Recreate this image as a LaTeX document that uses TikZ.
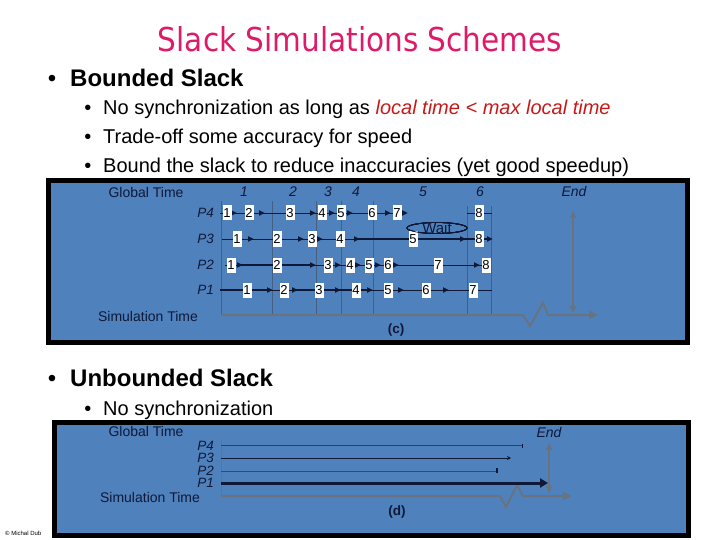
\documentclass[tikz,border=0pt]{standalone}
\usepackage{fontspec}
\setmainfont{Liberation Sans}
\newfontfamily\titlefont{DejaVu Sans}
\usetikzlibrary{arrows.meta}
\definecolor{panelblue}{RGB}{79,129,189}
\definecolor{navy}{RGB}{15,25,55}
\definecolor{greyline}{RGB}{105,115,128}
\definecolor{gridline}{RGB}{70,95,128}
\definecolor{titlered}{RGB}{222,27,104}
\definecolor{hired}{RGB}{200,25,25}
\tikzset{
  txt/.style={inner sep=0pt, anchor=base west},
  lbl/.style={inner sep=0pt, font=\fontsize{14}{15}\selectfont, text=navy},
  plbl/.style={inner sep=0pt, anchor=east, font=\fontsize{13.5}{14}\selectfont\itshape, text=navy},
  nb/.style={fill=white, inner sep=0pt, minimum width=9pt, minimum height=15pt, font=\fontsize{13}{13}\selectfont, text=black},
  thinrow/.style={draw=navy, line width=0.7pt},
  thickrow/.style={draw=navy, line width=2.4pt},
  gridln/.style={draw=gridline, line width=0.7pt},
  baseln/.style={draw=greyline, line width=2pt},
  panel/.style={fill=panelblue, draw=black, line width=5pt},
}
\newcommand\amk[2]{\fill[navy] (#1,#2) ++(-3,-2.8) -- ++(5.5,2.8) -- ++(-5.5,2.8) -- cycle;}
\newcommand\nbox[4]{\node[nb] (#1) at (#2,#3) {#4};}
\begin{document}
\begin{tikzpicture}[x=1pt,y=-1pt]
\useasboundingbox (0,0) rectangle (720,540);
% ---------- header texts ----------
\node (title) [anchor=base, inner sep=0pt, text=titlered] at (360,52) {\resizebox{404pt}{25pt}{\titlefont Slack Simulations Schemes}};
\node (bul1) [inner sep=0pt, anchor=base, font=\fontsize{24}{25}\selectfont] at (52,87) {•};
\node (h1) [txt, font=\fontsize{24}{25}\selectfont\bfseries] at (70,87) {Bounded Slack};
\node (sb1) [inner sep=0pt, anchor=base, font=\fontsize{20}{21}\selectfont] at (88,115) {•};
\node (s1) [txt, font=\fontsize{20}{21}\selectfont] at (103,115) {No synchronization as long as {\color{hired}\itshape local time < max local time}};
\node (sb2) [inner sep=0pt, anchor=base, font=\fontsize{20}{21}\selectfont] at (88,144) {•};
\node (s2) [txt, font=\fontsize{20}{21}\selectfont] at (103,144) {Trade-off some accuracy for speed};
\node (sb3) [inner sep=0pt, anchor=base, font=\fontsize{20}{21}\selectfont] at (88,172.5) {•};
\node (s3) [txt, font=\fontsize{20}{21}\selectfont] at (103,172.5) {Bound the slack to reduce inaccuracies (yet good speedup)};
\node (bul2) [inner sep=0pt, anchor=base, font=\fontsize{24}{25}\selectfont] at (52,386) {•};
\node (h2) [txt, font=\fontsize{24}{25}\selectfont\bfseries] at (70,386) {Unbounded Slack};
\node (sb4) [inner sep=0pt, anchor=base, font=\fontsize{20}{21}\selectfont] at (88,415) {•};
\node (s4) [txt, font=\fontsize{20}{21}\selectfont] at (103,415) {No synchronization};
\node (foot) [txt, font=\fontsize{6}{6}\selectfont] at (5,535.5) {© Michal Dub};
% ---------- panel (c) ----------
\draw[panel] (48.5,180.5) rectangle (687.5,342.5);
\foreach \x in {221,272,316,341,373} \draw[gridln] (\x,201) -- (\x,315);
\foreach \x in {467,491} \draw[gridln] (\x,206) -- (\x,315);
\draw[baseln, -{Triangle[length=9pt,width=8pt]}] (221,315) -- (523,315) -- (530,326) -- (543,303) -- (548,315) -- (598,315);
\draw[greyline, line width=1.5pt, {Triangle[length=7pt,width=6pt]}-{Triangle[length=7pt,width=6pt]}] (573,211) -- (573,313);
\node (gt) [lbl] at (146,192) {Global Time};
\node (st) [lbl] at (148,316) {Simulation Time};
\foreach \x/\t in {244/1,293/2,328/3,356/4,423/5,480/6} \node [lbl, font=\fontsize{14}{15}\selectfont\itshape] at (\x,192) {\t};
\node (endc) [lbl, font=\fontsize{14}{15}\selectfont\itshape] at (574,191) {End};
\node (c) [lbl, font=\fontsize{13.5}{14}\selectfont\bfseries] at (396,330) {(c)};
\node (p4) [plbl] at (214,213) {P4};
\node (p3) [plbl] at (214,239) {P3};
\node (p2) [plbl] at (214,265) {P2};
\node (p1) [plbl] at (214,290) {P1};
% P4 row
\draw[thinrow] (220,213) -- (404,213);
\draw[thinrow] (467,213) -- (492,213);
\foreach \x in {234,262,313,332,350,388,405} \amk{\x}{213}
\nbox{a1}{227}{213}{1}\nbox{a2}{249}{213}{2}\nbox{a3}{290}{213}{3}\nbox{a4}{322}{213}{4}
\nbox{a5}{341}{213}{5}\nbox{a6}{372}{213}{6}\nbox{a7}{397}{213}{7}\nbox{a8}{479}{213}{8}
% P3 row
\draw[thinrow] (222,239) -- (357,239);
\draw[thickrow] (357,239) -- (489,239);
\foreach \x in {251,301,320,357,463,490} \amk{\x}{239}
\nbox{b1}{237}{239}{1}\nbox{b2}{277}{239}{2}\nbox{b3}{312}{239}{3}\nbox{b4}{340}{239}{4}
\nbox{b5}{413}{239}{5}\nbox{b8}{479}{239}{8}
\draw[navy, line width=0.8pt] (437,228) ellipse (30 and 5.5);
\node (wait) [inner sep=0pt, font=\fontsize{15}{15}\selectfont, text=navy] at (437,228) {Wait};
% P2 row
\draw[thinrow] (225,265) -- (238,265);
\draw[thickrow] (238,265) -- (313,265);
\draw[thinrow] (313,265) -- (490,265);
\foreach \x in {240,313,338,358,378,396,477} \amk{\x}{265}
\nbox{c1}{231}{265}{1}\nbox{c2}{277}{265}{2}\nbox{c3}{328}{265}{3}\nbox{c4}{350}{265}{4}
\nbox{c5}{369}{265}{5}\nbox{c6}{388}{265}{6}\nbox{c7}{438}{265}{7}\nbox{c8}{486}{265}{8}
% P1 row
\draw[thickrow] (220,290) -- (270,290);
\draw[thinrow] (270,290) -- (294,290);
\draw[thickrow] (294,290) -- (370,290);
\draw[thinrow] (370,290) -- (492,290);
\foreach \x in {270,295,338,370,401,446} \amk{\x}{290}
\nbox{d1}{247}{290}{1}\nbox{d2}{284}{290}{2}\nbox{d3}{319}{290}{3}\nbox{d4}{356}{290}{4}
\nbox{d5}{388}{290}{5}\nbox{d6}{426}{290}{6}\nbox{d7}{473}{290}{7}
% ---------- panel (d) ----------
\draw[panel] (54.5,422.5) rectangle (688.5,535.5);
\draw[gridln, draw=greyline] (221,440) -- (221,496);
\draw[baseln, -{Triangle[length=9pt,width=8pt]}] (221,496) -- (500,496) -- (506,507) -- (517,485) -- (523,496) -- (572,496);
\draw[greyline, line width=1.5pt, {Triangle[length=7pt,width=6pt]}-{Triangle[length=7pt,width=6pt]}] (549,443) -- (549,493);
\draw[navy!60!panelblue, line width=0.8pt] (221,445.5) -- (522,445.5);
\draw[navy, line width=1pt] (522,443.5) -- (522,447.5);
\draw[navy, line width=0.8pt, -{Stealth[length=4pt,width=4pt]}] (221,458) -- (511,458);
\draw[navy!50!panelblue, line width=0.8pt] (221,471) -- (497,471);
\draw[navy, line width=1.6pt] (497,468) -- (497,473);
\draw[navy, line width=3pt, -{Triangle[length=8pt,width=9pt]}] (221,483) -- (548,483);
\node (gt2) [lbl] at (146,431) {Global Time};
\node (end2) [lbl, font=\fontsize{14}{15}\selectfont\itshape] at (549,432) {End};
\node (q4) [plbl] at (214,446) {P4};
\node (q3) [plbl] at (214,458) {P3};
\node (q2) [plbl] at (214,470.5) {P2};
\node (q1) [plbl] at (214,483) {P1};
\node (st2) [lbl] at (150,497) {Simulation Time};
\node (d) [lbl, font=\fontsize{13.5}{14}\selectfont\bfseries] at (397,512) {(d)};
\end{tikzpicture}
\end{document}
